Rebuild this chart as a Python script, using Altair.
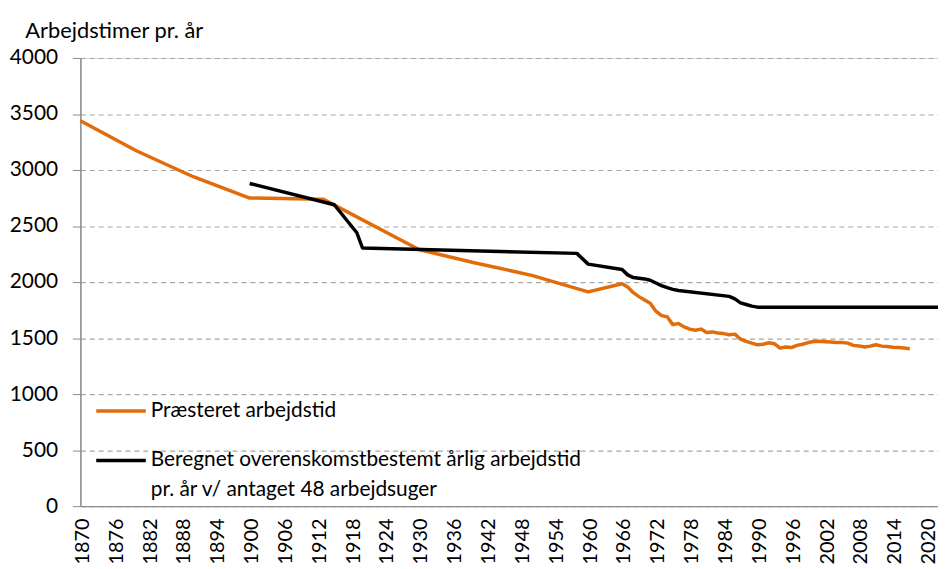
import altair as alt
import pandas as pd

# ---------------- data ----------------
series_names = [
    "Præsteret arbejdstid",
    "Beregnet overenskomstbestemt årlig arbejdstid",
]
legend_line2 = "pr. år v/ antaget 48 arbejdsuger"
y_title = "Arbejdstimer pr. år"

years_p = [1870, 1880, 1890, 1900, 1913, 1930, 1940, 1950, 1960, 1966,
           1967, 1968, 1969, 1970, 1971, 1972, 1973, 1974, 1975, 1976,
           1977, 1978, 1979, 1980, 1981, 1982, 1983, 1984, 1985, 1986,
           1987, 1988, 1989, 1990, 1991, 1992, 1993, 1994, 1995, 1996,
           1997, 1998, 1999, 2000, 2001, 2002, 2003, 2004, 2005, 2006,
           2007, 2008, 2009, 2010, 2011, 2012, 2013, 2014, 2015, 2016, 2017]
vals_p = [3440, 3170, 2940, 2750, 2740, 2290, 2170, 2060, 1912, 1985,
          1955, 1905, 1870, 1840, 1810, 1740, 1700, 1690, 1620, 1630,
          1600, 1580, 1570, 1580, 1550, 1555, 1545, 1540, 1530, 1535,
          1490, 1470, 1455, 1440, 1445, 1458, 1450, 1410, 1420, 1415,
          1435, 1445, 1460, 1470, 1472, 1468, 1465, 1460, 1460, 1455,
          1435, 1430, 1420, 1428, 1440, 1428, 1425, 1418, 1415, 1412, 1405]

years_b = [1900, 1915, 1919, 1920, 1958, 1960, 1966, 1967, 1968, 1970,
           1971, 1972, 1973, 1974, 1975, 1976, 1985, 1986, 1987, 1988,
           1989, 1990, 2022]
vals_b = [2880, 2690, 2440, 2304, 2256, 2160, 2112, 2064, 2040, 2028,
          2016, 1992, 1968, 1950, 1935, 1925, 1872, 1850, 1814, 1800,
          1785, 1776, 1776]

x_ticks = list(range(1870, 2021, 6))
y_ticks = list(range(0, 4001, 500))

ORANGE = "#E36C0A"
BLACK = "#000000"
FONT = "Lato"
FS = 21
GRAY = "#8c8c8c"

df_p = pd.DataFrame({"year": years_p, "value": vals_p, "series": series_names[0]})
df_b = pd.DataFrame({"year": years_b, "value": vals_b, "series": series_names[1]})

x_enc = alt.X(
    "year:Q",
    scale=alt.Scale(domain=[1870, 2022], nice=False, zero=False),
    axis=alt.Axis(
        values=x_ticks, format="d", labelAngle=-90, labelAlign="right",
        labelBaseline="middle", labelPadding=12, labelOffset=2, ticks=False,
        grid=False, title=None, domainColor=GRAY, domainWidth=1.5,
        labelFont=FONT, labelFontSize=20, labelColor="#000",
        labelOverlap=False, labelBound=False, labelFlush=False,
    ),
)
y_enc = alt.Y(
    "value:Q",
    scale=alt.Scale(domain=[0, 4000], nice=False),
    axis=alt.Axis(
        values=y_ticks, format="d", grid=True, gridDash=[5, 4], gridColor="#a6a6a6",
        gridWidth=1.2, tickSize=8, tickColor=GRAY, domainColor=GRAY,
        domainWidth=1.5, labelPadding=15, labelFont=FONT, labelFontSize=FS,
        labelColor="#000", labelOverlap=False,
        title=y_title, titleAngle=0, titleAlign="left", titleBaseline="alphabetic",
        titleX=-56, titleY=-21, titleFont=FONT, titleFontSize=22,
        titleFontWeight="normal", titleColor="#000",
    ),
)

color_scale = alt.Scale(domain=series_names, range=[ORANGE, BLACK])
color_enc = alt.Color("series:N", scale=color_scale, legend=None)

line_p = alt.Chart(df_p).mark_line(strokeWidth=3.5, strokeJoin="round").encode(
    x=x_enc, y=y_enc, color=color_enc
)
line_b = alt.Chart(df_b).mark_line(strokeWidth=3.5, strokeJoin="round").encode(
    x=x_enc, y=y_enc, color=color_enc
)

# ---------------- manual legend ----------------
leg1 = pd.DataFrame({"label": [series_names[0]]})
leg2 = pd.DataFrame({"label": [series_names[1]]})
leg3 = pd.DataFrame({"label": [legend_line2]})

rule1 = alt.Chart(leg1).mark_rule(strokeWidth=3.5, color=ORANGE).encode(
    x=alt.value(16), x2=alt.value(66), y=alt.value(356)
)
text1 = alt.Chart(leg1).mark_text(
    align="left", baseline="middle", font=FONT, fontSize=FS, color="#000"
).encode(x=alt.value(71), y=alt.value(356), text="label:N")

rule2 = alt.Chart(leg2).mark_rule(strokeWidth=3.5, color=BLACK).encode(
    x=alt.value(16), x2=alt.value(66), y=alt.value(406)
)
text2 = alt.Chart(leg2).mark_text(
    align="left", baseline="middle", font=FONT, fontSize=FS, color="#000"
).encode(x=alt.value(71), y=alt.value(406), text="label:N")
text3 = alt.Chart(leg3).mark_text(
    align="left", baseline="middle", font=FONT, fontSize=FS, color="#000"
).encode(x=alt.value(71), y=alt.value(436), text="label:N")

chart = alt.layer(line_p, line_b, rule1, text1, rule2, text2, text3).properties(
    width=865,
    height=452,
    autosize=alt.AutoSizeParams(type="none"),
    padding={"left": 73, "top": 48, "right": 0, "bottom": 60},
).configure_view(stroke=None).configure(background="white")

chart.save("out.html", embed_options={"renderer": "svg", "actions": False})
